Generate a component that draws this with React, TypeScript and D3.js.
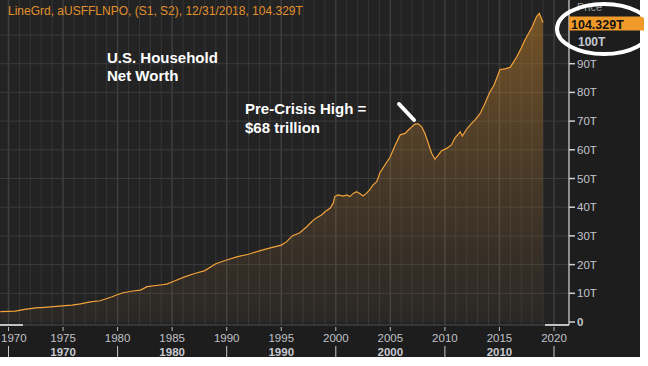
import React from "react";
import * as d3 from "d3";

const years = [
  1969.25, 1970.0, 1970.6, 1971.5, 1972.5, 1973.3, 1974.9, 1975.8, 1976.6, 1977.5,
  1978.4, 1979.5, 1979.9, 1980.5, 1981.4, 1982.1, 1982.7, 1983.9, 1984.5, 1985.1,
  1986.2, 1987.0, 1988.0, 1989.0, 1990.0, 1991.0, 1992.0, 1993.0, 1994.0, 1995.0,
  1995.5, 1996.0, 1996.7, 1997.33, 1997.94, 1998.4, 1998.7, 1999.0, 1999.47, 1999.77,
  1999.9, 2000.2, 2000.7, 2001.0, 2001.3, 2001.6, 2001.9, 2002.2, 2002.5, 2002.8,
  2003.1, 2003.4, 2003.75, 2004.05, 2004.5, 2004.97, 2005.43, 2005.9, 2006.35, 2006.65,
  2006.96, 2007.27, 2007.56, 2007.87, 2008.17, 2008.48, 2008.78, 2009.08, 2009.4, 2009.7,
  2010.16, 2010.6, 2010.9, 2011.4, 2011.6, 2011.94, 2012.3, 2012.76, 2013.2, 2013.6,
  2014.1, 2014.5, 2015.05, 2015.5, 2016.0, 2016.6, 2017.0, 2017.3, 2018.0, 2018.4,
  2018.66, 2018.99,
];
const netWorth = [
  3.6, 3.7, 3.8, 4.4, 4.9, 5.1, 5.6, 5.9, 6.3, 7.0,
  7.4, 8.8, 9.4, 10.2, 10.8, 11.1, 12.3, 12.9, 13.2, 14.1,
  15.8, 16.8, 17.9, 20.3, 21.6, 22.8, 23.6, 24.8, 25.8, 26.8,
  28.0, 30.0, 31.1, 33.2, 35.5, 36.7, 37.3, 38.4, 39.6, 41.4,
  43.7, 44.3, 43.9, 44.3, 43.7, 44.8, 45.4, 44.8, 43.9, 44.8,
  46.0, 47.7, 48.9, 52.0, 54.7, 57.4, 61.5, 65.2, 65.7, 66.9,
  68.0, 69.0, 69.0, 68.0, 65.7, 62.3, 58.8, 56.7, 58.2, 59.7,
  60.5, 61.7, 64.0, 66.3, 64.8, 66.9, 68.6, 70.4, 72.5, 75.5,
  80.0, 82.5, 88.0, 88.2, 88.8, 92.5, 95.5, 98.0, 102.9, 106.4,
  107.5, 104.329,
];
const yTicks = [0, 10, 20, 30, 40, 50, 60, 70, 80, 90];
const yTickLabels = ["0", "10T", "20T", "30T", "40T", "50T", "60T", "70T", "80T", "90T"];
const xTicks = [1970, 1975, 1980, 1985, 1990, 1995, 2000, 2005, 2010, 2015, 2020];
const decades = [1970, 1980, 1990, 2000, 2010];
const header = "LineGrd, aUSFFLNPO, (S1, S2), 12/31/2018, 104.329T";
const lastLabel = "104.329T";

export default function App() {
  const W = 648, H = 366;
  const panelR = 640, panelB = 357;
  const axisX = 569, axisY = 325;
  const x = d3.scaleLinear().domain([1970, 2020]).range([8.5, 554]);
  const y = d3.scaleLinear().domain([0, 100]).range([322, 35]);
  const data = years.map((yr, i) => ({ yr, v: netWorth[i] }));
  const line = d3.line<any>().x((d) => x(d.yr)).y((d) => y(d.v));
  const area = d3.area<any>().x((d) => x(d.yr)).y0(y(0)).y1((d) => y(d.v));
  const gridYears = d3.range(1969, 2021);
  const font = "'Liberation Sans', Arial, sans-serif";

  return (
    <div style={{ position: "absolute", left: 0, top: 0 }}>
      <svg width={W} height={H} style={{ display: "block" }}>
        <defs>
          <linearGradient id="fillG" x1="0" y1="0" x2="0" y2="1" gradientUnits="objectBoundingBox">
            <stop offset="0%" stopColor="#d88e2a" stopOpacity={0.45} />
            <stop offset="100%" stopColor="#a07040" stopOpacity={0.06} />
          </linearGradient>
          <clipPath id="plotClip">
            <rect x={0} y={0} width={axisX} height={axisY} />
          </clipPath>
        </defs>
        <rect x={0} y={0} width={W} height={H} fill="#ffffff" />
        <rect x={0} y={0} width={panelR} height={panelB} fill="#1d1d1d" />
        <rect x={0} y={0} width={axisX} height={axisY} fill="#232323" />
        <g clipPath="url(#plotClip)">
          {gridYears.map((yr) => (
            <line
              key={"vg" + yr}
              x1={x(yr)}
              x2={x(yr)}
              y1={0}
              y2={axisY}
              stroke={yr % 5 === 0 ? "#3e3e3e" : "#353535"}
              strokeWidth={yr % 5 === 0 ? 1.5 : 1}
            />
          ))}
          {yTicks.concat([100]).filter((t) => t > 0).map((t) => (
            <line key={"hg" + t} x1={0} x2={axisX} y1={y(t)} y2={y(t)} stroke="#3b3b3b" strokeWidth={1} />
          ))}
          <path d={area(data) || ""} fill="url(#fillG)" />
          <path d={line(data) || ""} fill="none" stroke="#f2a23a" strokeWidth={1.2} />
        </g>
        <line x1={0} x2={axisX} y1={axisY} y2={axisY} stroke="#4a4a4a" strokeWidth={1} />
        <line x1={0} x2={23} y1={axisY} y2={axisY} stroke="#f2f2f2" strokeWidth={1.5} />
        <line x1={545} x2={axisX} y1={axisY} y2={axisY} stroke="#f2f2f2" strokeWidth={1.5} />
        <line x1={axisX} x2={axisX} y1={0} y2={axisY} stroke="#d8d8d8" strokeWidth={1.2} />
        {yTicks.map((t, i) => (
          <g key={"yt" + t}>
            <line x1={axisX} x2={axisX + 6} y1={y(t)} y2={y(t)} stroke="#d0d0d0" strokeWidth={1.5} />
            <text
              x={axisX + 8}
              y={y(t) + 4}
              fontSize={11.5}
              fontFamily={font}
              fill="#c4c6cc"
              fontWeight={t === 0 ? "bold" : "normal"}
            >
              {yTickLabels[i]}
            </text>
          </g>
        ))}
        <text x={axisX + 9} y={y(100) + 11} fontSize={12} fontFamily={font} fill="#c4c8d2" fontWeight="bold">
          100T
        </text>
        <text x={axisX + 8} y={11} fontSize={11} fontFamily={font} fill="#9a9a9a">
          Price
        </text>
        <rect x={axisX} y={16.5} width={panelR - axisX + 4} height={14} fill="#f09a2a" />
        <text x={axisX + 2} y={28.5} fontSize={12.5} fontFamily={font} fill="#111" fontWeight="bold">
          {lastLabel}
        </text>
        {xTicks.map((t, i) => (
          <g key={"xt" + t}>
            <line x1={x(t)} x2={x(t)} y1={axisY + 2} y2={axisY + 6} stroke="#bdbdbd" strokeWidth={1} />
            <text
              x={i === 0 ? 1 : x(t)}
              y={342}
              fontSize={11.5}
              fontFamily={font}
              fill="#c0c2c8"
              textAnchor={i === 0 ? "start" : "middle"}
            >
              {t}
            </text>
          </g>
        ))}
        {decades.concat([2020]).map((d) => (
          <line key={"ds" + d} x1={x(d)} x2={x(d)} y1={346} y2={357} stroke="#c8c8c8" strokeWidth={1} />
        ))}
        {decades.map((d) => (
          <text
            key={"dl" + d}
            x={x(d + 5)}
            y={355.5}
            fontSize={11.5}
            fontFamily={font}
            fontWeight="bold"
            fill="#c8cad0"
            textAnchor="middle"
          >
            {d}
          </text>
        ))}
        <text x={8} y={15} fontSize={12} fontFamily={font} fill="#e0902c">
          {header}
        </text>
        <text x={107} y={63} fontSize={15} fontFamily={font} fontWeight="bold" fill="#ffffff">
          U.S. Household
        </text>
        <text x={107} y={81} fontSize={15} fontFamily={font} fontWeight="bold" fill="#ffffff">
          Net Worth
        </text>
        <text x={245} y={114} fontSize={15} fontFamily={font} fontWeight="bold" fill="#ffffff">
          Pre-Crisis High =
        </text>
        <text x={245} y={133} fontSize={15} fontFamily={font} fontWeight="bold" fill="#ffffff">
          $68 trillion
        </text>
        <line x1={399} y1={104} x2={414} y2={120} stroke="#ffffff" strokeWidth={4} strokeLinecap="round" />
        <ellipse cx={604} cy={29} rx={47} ry={25} fill="none" stroke="#ffffff" strokeWidth={4} />
      </svg>
    </div>
  );
}
